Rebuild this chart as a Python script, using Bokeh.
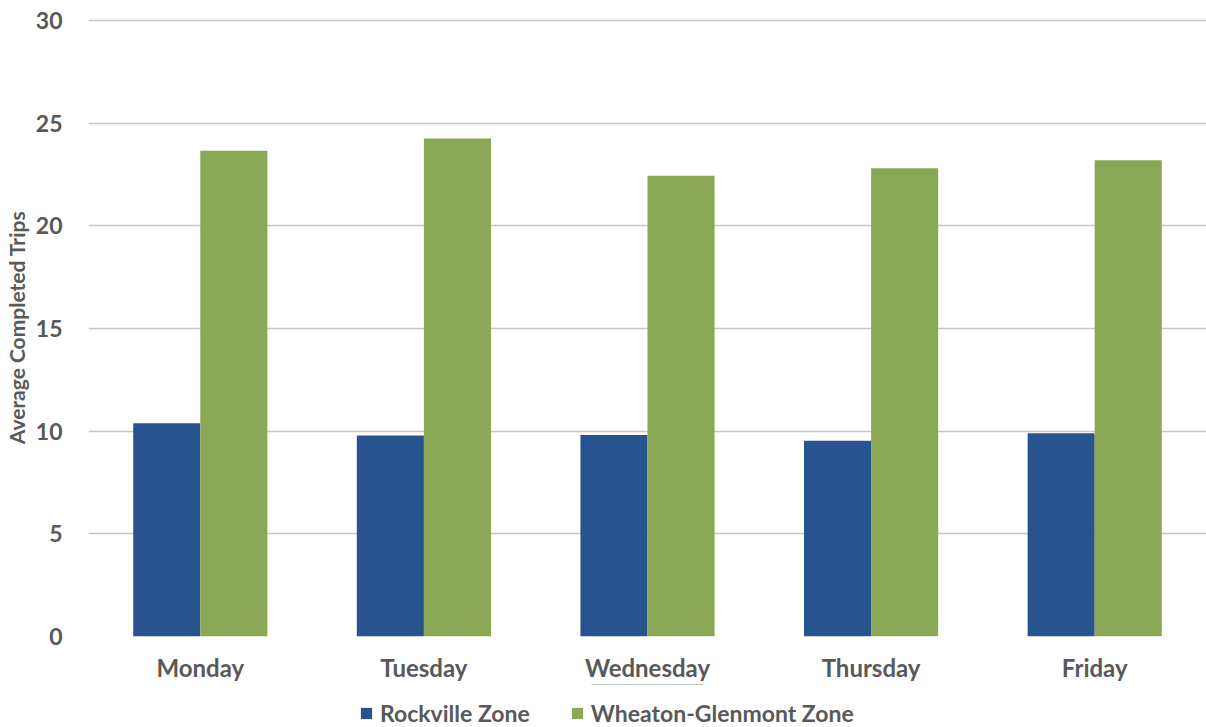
from bokeh.plotting import figure
from bokeh.layouts import column
from bokeh.models import ColumnDataSource, FactorRange, Legend, LegendItem, SingleIntervalTicker
from bokeh.transform import dodge
from bokeh.embed import file_html
from bokeh.resources import INLINE

days = ["Monday", "Tuesday", "Wednesday", "Thursday", "Friday"]
rockville = [10.39, 9.79, 9.82, 9.53, 9.90]
wheaton = [23.66, 24.26, 22.44, 22.81, 23.20]
series_names = ["Rockville Zone", "Wheaton-Glenmont Zone"]

FONT = "Lato"
TEXT = "#595959"
BLUE = "#29538F"
GREEN = "#8AA856"
COLORS = [BLUE, GREEN]

src = ColumnDataSource(dict(day=days, rock=rockville, wheat=wheaton))

p = figure(
    width=1206, height=684,
    x_range=FactorRange(*days, range_padding=0),
    y_range=(0, 30.1),
    output_backend="svg", toolbar_location=None,
    min_border_left=88, min_border_right=0, min_border_top=18, min_border_bottom=48,
)
p.outline_line_color = None
p.background_fill_color = "white"
p.border_fill_color = "white"

p.vbar(x=dodge("day", -0.15, range=p.x_range), top="rock", width=0.3,
       source=src, fill_color=BLUE, line_color=None)
p.vbar(x=dodge("day", 0.15, range=p.x_range), top="wheat", width=0.3,
       source=src, fill_color=GREEN, line_color=None)

p.xgrid.grid_line_color = None
p.ygrid.grid_line_color = "#C6C6C6"
p.ygrid.grid_line_width = 1.5
p.yaxis.ticker = SingleIntervalTicker(interval=5)

for ax in (p.xaxis[0], p.yaxis[0]):
    ax.axis_line_color = None
    ax.major_tick_line_color = None
    ax.minor_tick_line_color = None
    ax.major_label_text_font = FONT
    ax.major_label_text_font_style = "bold"
    ax.major_label_text_color = TEXT

p.yaxis.major_label_text_font_size = "23px"
p.xaxis.major_label_text_font_size = "24px"
p.yaxis.major_label_standoff = 20
p.xaxis.major_label_standoff = 10
p.yaxis.axis_label = "Average Completed Trips"
p.yaxis.axis_label_text_font = FONT
p.yaxis.axis_label_text_font_style = "bold"
p.yaxis.axis_label_text_color = TEXT
p.yaxis.axis_label_text_font_size = "21px"
p.yaxis.axis_label_standoff = 4

# legend strip under the chart; swatch renderers sit wholly outside its visible range
lg = figure(
    width=1206, height=43, x_range=(0, 1), y_range=(0, 1),
    output_backend="svg", toolbar_location=None,
    x_axis_location=None, y_axis_location=None,
    min_border=0, min_border_left=0, min_border_right=0,
    min_border_top=0, min_border_bottom=0,
)
lg.outline_line_color = None
lg.grid.grid_line_color = None
lg.background_fill_color = "white"
lg.border_fill_color = "white"
swatches = [lg.vbar(x=[0.5], bottom=[5], top=[6], width=0.1, fill_color=c, line_color=None)
            for c in COLORS]

legend = Legend(
    items=[LegendItem(label=n, renderers=[r]) for n, r in zip(series_names, swatches)],
    orientation="horizontal", location=(271, 0),
    label_text_font=FONT, label_text_font_style="bold",
    label_text_color=TEXT, label_text_font_size="23px",
    glyph_width=14, glyph_height=14, label_standoff=7, spacing=40,
    border_line_color=None, background_fill_alpha=0,
    padding=0, margin=0,
)
lg.add_layout(legend, "center")

open("out.html", "w").write(file_html(column(p, lg, spacing=0), INLINE))
